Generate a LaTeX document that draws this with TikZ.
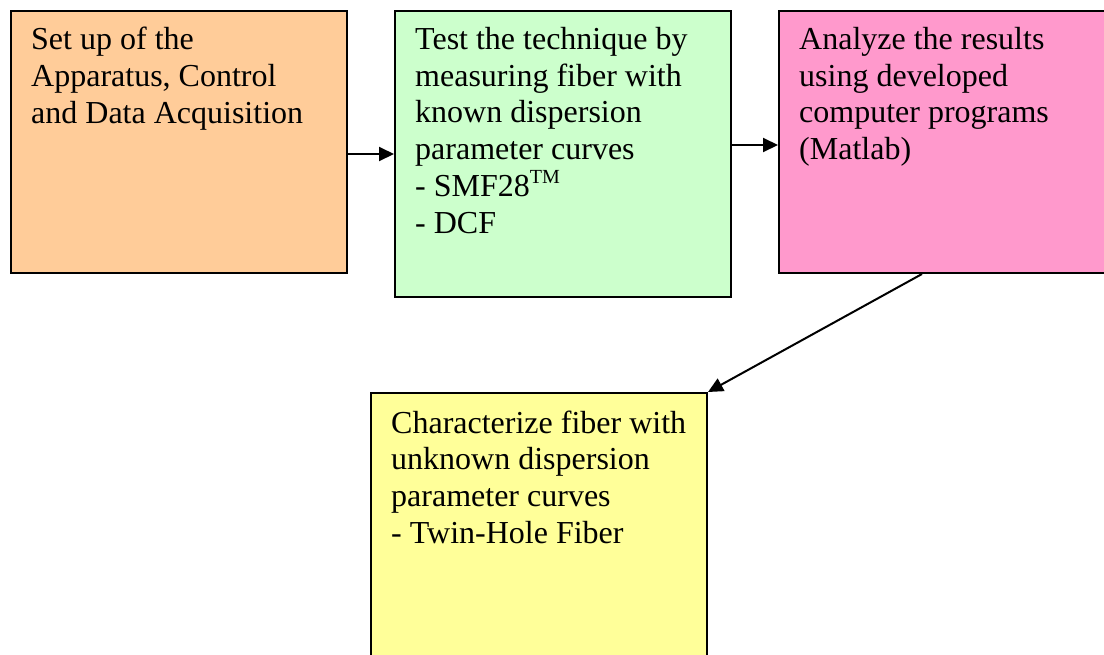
\documentclass[tikz,border=0pt]{standalone}
\usepackage{fontspec}
\setmainfont{Liberation Serif}
\usetikzlibrary{arrows.meta,calc}
\definecolor{boxorange}{RGB}{255,204,153}
\definecolor{boxgreen}{RGB}{204,255,204}
\definecolor{boxpink}{RGB}{255,153,204}
\definecolor{boxyellow}{RGB}{255,255,153}
\newcommand{\tmmark}{\raisebox{13pt}{\fontsize{20}{20}\selectfont TM}}
\tikzset{
  stepbox/.style={draw=black, line width=2pt, rectangle, anchor=north west, inner sep=0pt},
  boxtext/.style={anchor=north west, inner sep=0pt, text width=330pt, align=flush left,
    font=\fontsize{32}{36.8}\selectfont},
  arr/.style={line width=2pt, -{Triangle[length=15pt,width=14pt]}}
}
\begin{document}
\begin{tikzpicture}[x=1pt,y=-1pt]
\useasboundingbox (0,0) rectangle (1104,654);
\clip (0,0) rectangle (1104,654);
\node[stepbox, fill=boxorange, minimum width=336pt, minimum height=262pt] (b1) at (10,10) {};
\node[stepbox, fill=boxgreen, minimum width=336pt, minimum height=286pt] (b2) at (394,10) {};
\node[stepbox, fill=boxpink, minimum width=340pt, minimum height=262pt] (b3) at (778,10) {};
\node[stepbox, fill=boxyellow, minimum width=336pt, minimum height=280pt] (b4) at (370,392) {};
\node[boxtext] (t1) at (31,26.8) {Set up of the\\Apparatus, Control\\and Data Acquisition};
\node[boxtext] (t2) at (415,26.8) {Test the technique by\\measuring fiber with\\known dispersion\\parameter curves\\- SMF28\tmmark\\- DCF};
\node[boxtext] (t3) at (799,26.8) {Analyze the results\\using developed\\computer programs\\(Matlab)};
\node[boxtext] (t4) at (391,410.3) {Characterize fiber with\\unknown dispersion\\parameter curves\\- Twin-Hole Fiber};
\draw[arr] (b1.east |- b2.west) -- (b2.west);
\draw[arr] ([yshift=-3pt]b2.east |- b3.west) -- ([yshift=-3pt]b3.west);
\draw[arr] ($(b3.south west)+(144,0)$) -- (b4.north east);
\end{tikzpicture}
\end{document}
